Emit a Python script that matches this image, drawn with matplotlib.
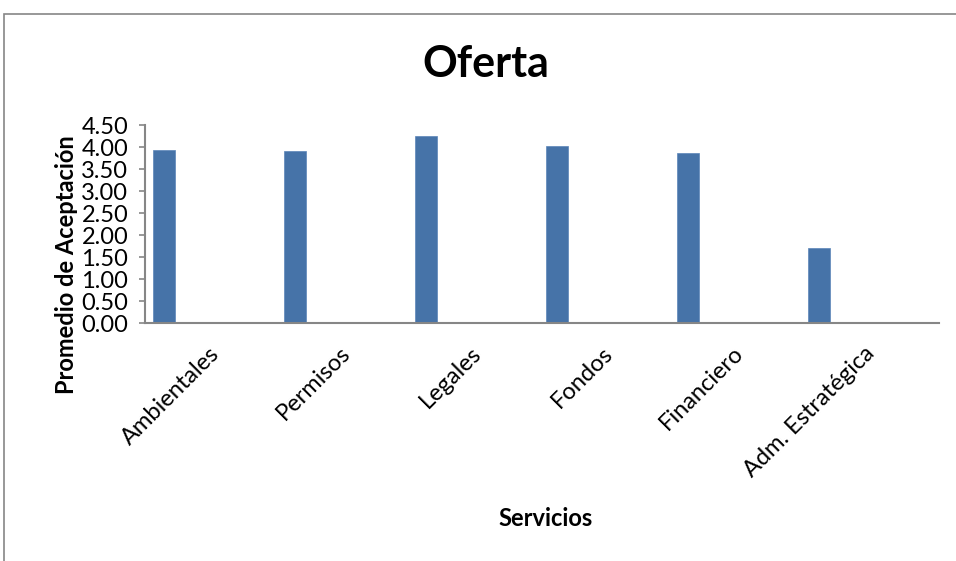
import numpy as np
import matplotlib.pyplot as plt
from matplotlib.patches import Rectangle

servicios = ['Ambientales', 'Permisos', 'Legales', 'Fondos', 'Financiero', 'Adm. Estratégica']
promedio = [3.93, 3.90, 4.26, 4.02, 3.86, 1.71]
yticks = [0.0, 0.5, 1.0, 1.5, 2.0, 2.5, 3.0, 3.5, 4.0, 4.5]

plt.rcParams['font.family'] = ['Lato', 'DejaVu Sans']

fig = plt.figure(figsize=(9.56, 5.61), dpi=100)
ax = fig.add_axes([145 / 956, 1 - 323.3 / 561, 794.3 / 956, 198.3 / 561])

x = np.arange(len(servicios))
ax.bar(x - 0.355, promedio, width=0.163, color='#4673A8', edgecolor='#5b85b8', linewidth=0.5)

ax.set_xlim(-0.5, 5.563)
ax.set_ylim(0, 4.5)
ax.set_yticks(yticks)
ax.set_yticklabels(['%.2f' % v for v in yticks], fontsize=17)
ax.set_xticks(x + 0.1)
ax.set_xticklabels(servicios, rotation=45, ha='right', va='top', fontsize=17)
ax.tick_params(axis='x', length=0, pad=14)
ax.tick_params(axis='y', direction='out', length=4, width=1.2, color='#868686', pad=8)

for s in ['top', 'right']:
    ax.spines[s].set_visible(False)
for s in ['left', 'bottom']:
    ax.spines[s].set_color('#868686')
    ax.spines[s].set_linewidth(1.5)

fig.text(486 / 956, 1 - 64 / 561, 'Oferta', fontsize=31, fontweight='bold', ha='center', va='center')
fig.text(66 / 956, 1 - 265 / 561, 'Promedio de Aceptación', fontsize=17, fontweight='bold',
         rotation=90, ha='center', va='center')
fig.text(546 / 956, 1 - 519 / 561, 'Servicios', fontsize=17, fontweight='bold', ha='center', va='center')

fig.patches.append(Rectangle((3.5 / 956, -0.1), 1.2, 1.1 - 13.5 / 561, transform=fig.transFigure,
                             fill=False, edgecolor='#868686', linewidth=1.2))

fig.savefig('out.png', dpi=100)
